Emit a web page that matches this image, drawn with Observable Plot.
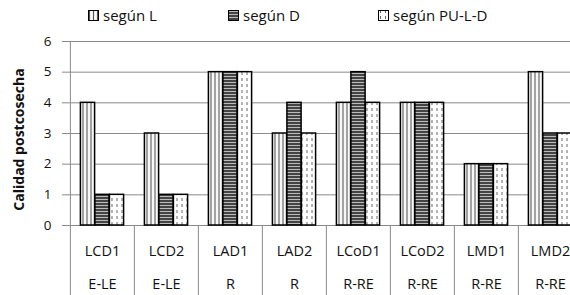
<!DOCTYPE html>
<html>
<head>
<meta charset="utf-8">
<script src="https://cdn.jsdelivr.net/npm/d3@7"></script>
<script src="https://cdn.jsdelivr.net/npm/@observablehq/plot@0.6"></script>
<style>
  html, body { margin: 0; padding: 0; background: #fff; width: 570px; height: 295px; overflow: hidden; }
  #legend { position: relative; height: 30px; font-family: "Open Sans", sans-serif; font-size: 15px; color: #111; }
  .item { position: absolute; top: 5px; display: flex; align-items: center; gap: 4px; white-space: nowrap; }
  .item svg { display: block; }
  #chart svg { max-width: none !important; }
</style>
</head>
<body>
<div id="legend"></div>
<div id="chart"></div>
<script>
// ---- data ----
const categories = ["LCD1", "LCD2", "LAD1", "LAD2", "LCoD1", "LCoD2", "LMD1", "LMD2"];
const clases     = ["E-LE", "E-LE", "R", "R", "R-RE", "R-RE", "R-RE", "R-RE"];
const seriesNames = ["según L", "según D", "según PU-L-D"];
const segunL   = [4, 3, 5, 3, 4, 4, 2, 5];
const segunD   = [1, 1, 5, 4, 5, 4, 2, 3];
const segunPU  = [1, 1, 5, 3, 4, 4, 2, 3];
const yTicks = [0, 1, 2, 3, 4, 5, 6];

const seriesValues = [segunL, segunD, segunPU];
const patternIds = ["patL", "patD", "patPU"];
const offsets = [-14.5, 0, 14.5];

const rowsFor = (vals) => categories.map((c, i) => ({cat: c, value: vals[i]}));

const gridColor = "#8a8a8a";
const catRows = categories.map((c, i) => ({cat: c, clase: clases[i]}));

const barMarks = seriesValues.map((vals, s) =>
  Plot.barY(rowsFor(vals), {
    x: "cat", y: "value",
    fill: `url(#${patternIds[s]})`,
    stroke: "#000", strokeWidth: 1.5,
    insetLeft: 24.9, insetRight: 24.9, dx: offsets[s]
  })
);

const chart = Plot.plot({
  width: 600,
  height: 265,
  marginLeft: 69,
  marginRight: 17,
  marginTop: 11,
  marginBottom: 70,
  style: { fontFamily: "Open Sans, sans-serif", fontSize: "13px", color: "#111", background: "#fff", overflow: "visible", maxWidth: "none" },
  x: { domain: categories, padding: 0, axis: null },
  y: { domain: [0, 6], ticks: yTicks, label: null },
  marks: [
    Plot.ruleY(yTicks, { stroke: gridColor, strokeWidth: 1 }),
    // category table separators
    Plot.ruleX(categories, { x: d => d, dx: -32.12, y1: 0, y2: -2.35, stroke: gridColor, strokeWidth: 1 }),
    Plot.ruleX([categories[0]], { x: d => d, dx: -32.12, y1: 0, y2: 6, stroke: gridColor, strokeWidth: 1 }),
    Plot.ruleX([categories[categories.length - 1]], { x: d => d, dx: 32.12, y1: 0, y2: -2.35, stroke: gridColor, strokeWidth: 1 }),
    ...barMarks,
    Plot.axisY({ ticks: yTicks, tickFormat: "d", tickSize: 7, tickPadding: 11, stroke: gridColor, fontSize: 13.5, label: null }),
    Plot.text(catRows, { x: "cat", text: "cat", frameAnchor: "bottom", dy: 30, fontSize: 14.5, fill: "#111" }),
    Plot.text(catRows, { x: "cat", text: "clase", frameAnchor: "bottom", dy: 63, fontSize: 14.5, fill: "#111" }),
    Plot.text(["Calidad postcosecha"], { frameAnchor: "left", textAnchor: "middle", dx: -50, dy: 6, rotate: -90, fontWeight: "bold", fontSize: 14, fill: "#111" })
  ]
});
chart.style.maxWidth = "none";
chart.style.width = "600px";
chart.style.height = "265px";

// pattern definitions
const defs = `
<defs>
  <pattern id="patL" patternUnits="userSpaceOnUse" width="4" height="4">
    <rect width="4" height="4" fill="#fff"/>
    <line x1="1.5" y1="0" x2="1.5" y2="4" stroke="#555" stroke-width="1.2"/>
  </pattern>
  <pattern id="patD" patternUnits="userSpaceOnUse" width="4" height="3">
    <rect width="4" height="3" fill="#444"/>
    <line x1="0" y1="1.5" x2="4" y2="1.5" stroke="#c8c8c8" stroke-width="0.9"/>
  </pattern>
  <pattern id="patPU" patternUnits="userSpaceOnUse" width="5" height="6">
    <rect width="5" height="6" fill="#fff"/>
    <line x1="2.5" y1="0" x2="2.5" y2="3" stroke="#666" stroke-width="1"/>
  </pattern>
</defs>`;
chart.insertAdjacentHTML("afterbegin", defs);
document.getElementById("chart").appendChild(chart);

// legend
const legendX = [88, 228, 378];
const legend = d3.select("#legend");
seriesNames.forEach((name, i) => {
  const it = legend.append("div").attr("class", "item").style("left", legendX[i] + "px");
  const sw = it.append("svg").attr("width", 11).attr("height", 11);
  sw.append("rect").attr("x", 0.5).attr("y", 0.5).attr("width", 10).attr("height", 10)
    .attr("fill", `url(#${patternIds[i]})`).attr("stroke", "#000").attr("stroke-width", 1);
  it.append("span").text(name);
});
</script>
</body>
</html>
